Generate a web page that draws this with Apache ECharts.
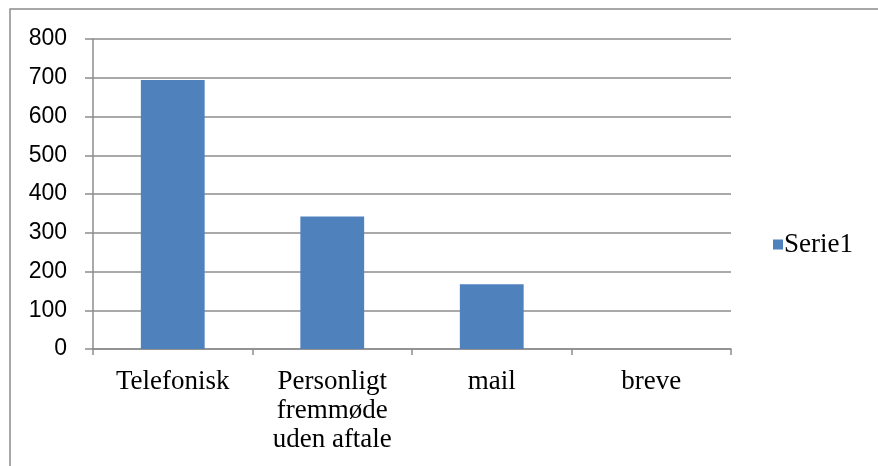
<!DOCTYPE html>
<html>
<head>
<meta charset="utf-8">
<script src="https://cdn.jsdelivr.net/npm/echarts@6/dist/echarts.min.js"></script>
<style>
  html, body { margin: 0; padding: 0; background: #fff; }
  #container { width: 878px; height: 466px; }
</style>
</head>
<body>
<div id="container"></div>
<script>
var categories = ['Telefonisk', 'Personligt\nfremmøde\nuden aftale', 'mail', 'breve'];
var serie1 = [694, 342, 167, 0];
var seriesName = 'Serie1';

var dom = document.getElementById('container');
var myChart = echarts.init(dom);

var option = {
  animation: false,
  graphic: [{
    type: 'rect',
    shape: { x: 10, y: 9, width: 900, height: 500 },
    style: { fill: 'none', stroke: '#8c8c8c', lineWidth: 1.5 },
    silent: true
  }],
  legend: {
    data: [{ name: seriesName, icon: 'rect' }],
    orient: 'vertical',
    left: 768,
    top: 226,
    itemWidth: 10,
    itemHeight: 10,
    itemGap: 4,
    textStyle: { fontFamily: 'Liberation Serif', fontSize: 27, color: '#000', padding: [0, 0, 0, -4] }
  },
  grid: { left: 93, right: 147, top: 39, bottom: 117 },
  xAxis: {
    type: 'category',
    data: categories,
    axisLine: { lineStyle: { color: '#8c8c8c', width: 1.5 } },
    axisTick: { show: true, length: 6, lineStyle: { color: '#8c8c8c', width: 1.5 } },
    axisLabel: {
      interval: 0,
      margin: 18,
      fontFamily: 'Liberation Serif',
      fontSize: 27,
      lineHeight: 29,
      color: '#000'
    }
  },
  yAxis: {
    type: 'value',
    min: 0,
    max: 800,
    interval: 100,
    axisLine: { show: true, lineStyle: { color: '#8c8c8c', width: 1.5 } },
    axisTick: { show: true, length: 8, lineStyle: { color: '#8c8c8c', width: 1.5 } },
    splitLine: { lineStyle: { color: '#8c8c8c', width: 1.5 } },
    axisLabel: {
      margin: 26,
      fontFamily: 'Liberation Sans',
      fontSize: 23,
      color: '#000'
    }
  },
  series: [{
    name: seriesName,
    type: 'bar',
    barWidth: '40%',
    data: serie1,
    itemStyle: { color: '#4f81bd' }
  }]
};

myChart.setOption(option);
</script>
</body>
</html>
